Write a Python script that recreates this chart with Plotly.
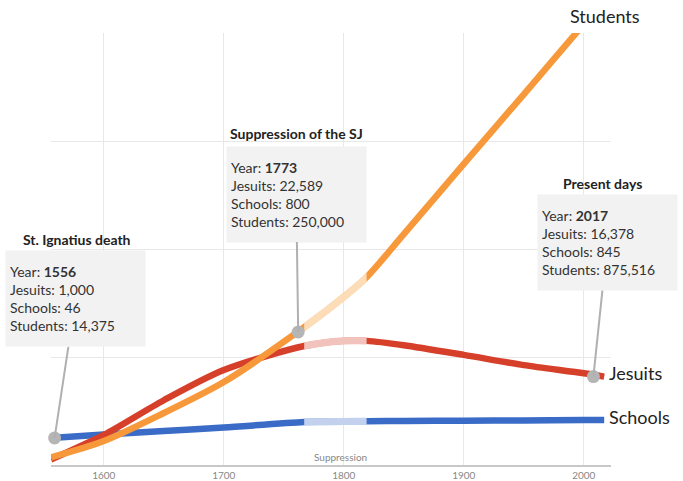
import plotly.graph_objects as go

# ---- data ----
years = [1556, 1600, 1650, 1700, 1767, 1800, 1819, 1850, 1900, 1950, 2000, 2017]
students = [14375, 45100, 97800, 156000, 259000, 316000, 353000, 434000, 566000, 697000, 829000, 875516]
jesuits = [1000, 5560, 12000, 17600, 22050, 23000, 23000, 22200, 20400, 18500, 17000, 16378]
schools = [46, 200, 355, 510, 755, 777, 786, 800, 812, 826, 839, 845]

fade_start, fade_end = 1767, 1819          # faded "suppression" stretch
tick_years = [1600, 1700, 1800, 1900, 2000]

event_titles = ["St. Ignatius death", "Suppression of the SJ", "Present days"]
event_years = ["1556", "1773", "2017"]
event_jesuits = ["1,000", "22,589", "16,378"]
event_schools = ["46", "800", "845"]
event_students = ["14,375", "250,000", "875,516"]
marker_years = [1559, 1762, 2008]          # where the grey dots sit on the lines
marker_values = [46, 250000, 16378]        # schools, students, jesuits

# ---- layout geometry ----
W, H = 683, 481
L, R, T, B = 51, 611, 33, 465
FONT = "Lato"
X0 = 1556
X1 = X0 + (R - L) / 1.2
RANGES = {"Schools": [-1154, 18026], "Jesuits": [0, 80050], "Students": [0, 812160]}


def pxx(x):
    return (x - L) / (R - L)


def pxy(y):
    return (B - y) / (B - T)


def xfrac(year):
    return (year - X0) / (X1 - X0)


# series: dark colour, light colour, main y axis, fade-subplot y axis, values
series = [
    ("Schools", "#3A6CC7", "#C3D1EE", "y", "y6", schools),
    ("Jesuits", "#D6402B", "#F2C3BC", "y2", "y5", jesuits),
    ("Students", "#F7993B", "#FDDCB8", "y3", "y4", students),
]

fig = go.Figure()
for name, dark, light, ax, fax, vals in series:
    fig.add_trace(go.Scatter(
        x=years, y=vals, xaxis="x", yaxis=ax, mode="lines",
        line=dict(color=dark, width=6.5, shape="spline", smoothing=0.8),
        hoverinfo="skip", showlegend=False))
# faded stretch: same curves on a subplot whose domain covers only the fade years
for name, dark, light, ax, fax, vals in series:
    fig.add_trace(go.Scatter(
        x=years, y=vals, xaxis="x2", yaxis=fax, mode="lines",
        line=dict(color=light, width=7.2, shape="spline", smoothing=0.8),
        hoverinfo="skip", showlegend=False))

# grey event dots on a top-most overlay subplot
marker_axes = ["y9", "y7", "y8"]
for xv, yv, ax in zip(marker_years, marker_values, marker_axes):
    fig.add_trace(go.Scatter(
        x=[xv], y=[yv], xaxis="x3", yaxis=ax, mode="markers",
        marker=dict(size=13, color="#B5B5B5"), cliponaxis=False,
        hoverinfo="skip", showlegend=False))

annotations = []
main_axes = ["y", "y3", "y2"]
box_offsets = [(21, -139), (-2, -138), (14, -134)]
for k in range(3):
    txt = (f"Year: <b>{event_years[k]}</b><br>Jesuits: {event_jesuits[k]}"
           f"<br>Schools: {event_schools[k]}<br>Students: {event_students[k]}")
    annotations.append(dict(
        x=marker_years[k], y=marker_values[k], xref="x", yref=main_axes[k],
        text=txt, align="left", showarrow=True, arrowhead=0, arrowwidth=2,
        arrowcolor="#B0B0B0", ax=box_offsets[k][0], ay=box_offsets[k][1],
        bgcolor="#F2F2F2", borderpad=4, width=131, height=87,
        font=dict(family=FONT, size=14, color="#333333")))

title_pos = [(77, 239), (296, 133), (602, 183)]
for k in range(3):
    annotations.append(dict(
        x=pxx(title_pos[k][0]), y=pxy(title_pos[k][1]), xref="paper", yref="paper",
        xanchor="center", yanchor="middle",
        text=f"<b>{event_titles[k]}</b>", showarrow=False,
        font=dict(family=FONT, size=14, color="#222222")))

annotations.append(dict(x=pxx(605), y=pxy(16), xref="paper", yref="paper",
                        xanchor="center", yanchor="middle",
                        text="Students", showarrow=False,
                        font=dict(family=FONT, size=18, color="#222222")))
annotations.append(dict(x=pxx(607), y=pxy(373), xref="paper", yref="paper",
                        text="Jesuits", showarrow=False, xanchor="left", yanchor="middle",
                        font=dict(family=FONT, size=18, color="#222222")))
annotations.append(dict(x=pxx(607), y=pxy(417), xref="paper", yref="paper",
                        text="Schools", showarrow=False, xanchor="left", yanchor="middle",
                        font=dict(family=FONT, size=18, color="#222222")))
annotations.append(dict(x=pxx(340), y=pxy(457), xref="paper", yref="paper",
                        xanchor="center", yanchor="middle",
                        text="Suppression", showarrow=False,
                        font=dict(family=FONT, size=10, color="#888888")))

hidden = dict(visible=False, showgrid=False, zeroline=False)
fig.update_layout(
    width=W, height=H,
    margin=dict(l=L, r=W - R, t=T, b=H - B, pad=0, autoexpand=False),
    paper_bgcolor="white", plot_bgcolor="rgba(0,0,0,0)",
    showlegend=False, hovermode=False,
    xaxis=dict(range=[X0, X1], tickvals=tick_years, domain=[0, 1],
               ticktext=[str(t) for t in tick_years], showgrid=True,
               gridcolor="#E8E8E8", gridwidth=1, zeroline=False, automargin=False,
               showline=True, linecolor="#C8C8C8", linewidth=2, ticks="",
               tickfont=dict(family=FONT, size=10, color="#888888")),
    xaxis2=dict(range=[fade_start, fade_end], anchor="y4",
                domain=[xfrac(fade_start), xfrac(fade_end)], **hidden),
    xaxis3=dict(range=[X0, X1], anchor="y7", domain=[0, 1], **hidden),
    yaxis=dict(range=RANGES["Schools"], **hidden),
    yaxis2=dict(range=RANGES["Jesuits"], overlaying="y", **hidden),
    yaxis3=dict(range=RANGES["Students"], overlaying="y", showgrid=True,
                gridcolor="#E8E8E8", gridwidth=1, dtick=203040, tick0=0,
                showticklabels=False, zeroline=False, ticks="", showline=False),
    yaxis4=dict(range=RANGES["Students"], anchor="x2", domain=[0, 1], **hidden),
    yaxis5=dict(range=RANGES["Jesuits"], anchor="x2", overlaying="y4", **hidden),
    yaxis6=dict(range=RANGES["Schools"], anchor="x2", overlaying="y4", **hidden),
    yaxis7=dict(range=RANGES["Students"], anchor="x3", domain=[0, 1], **hidden),
    yaxis8=dict(range=RANGES["Jesuits"], anchor="x3", overlaying="y7", **hidden),
    yaxis9=dict(range=RANGES["Schools"], anchor="x3", overlaying="y7", **hidden),
    annotations=annotations,
)

fig.write_html("out.html", config={"displayModeBar": False},
               post_script="document.body.style.margin='0';")
